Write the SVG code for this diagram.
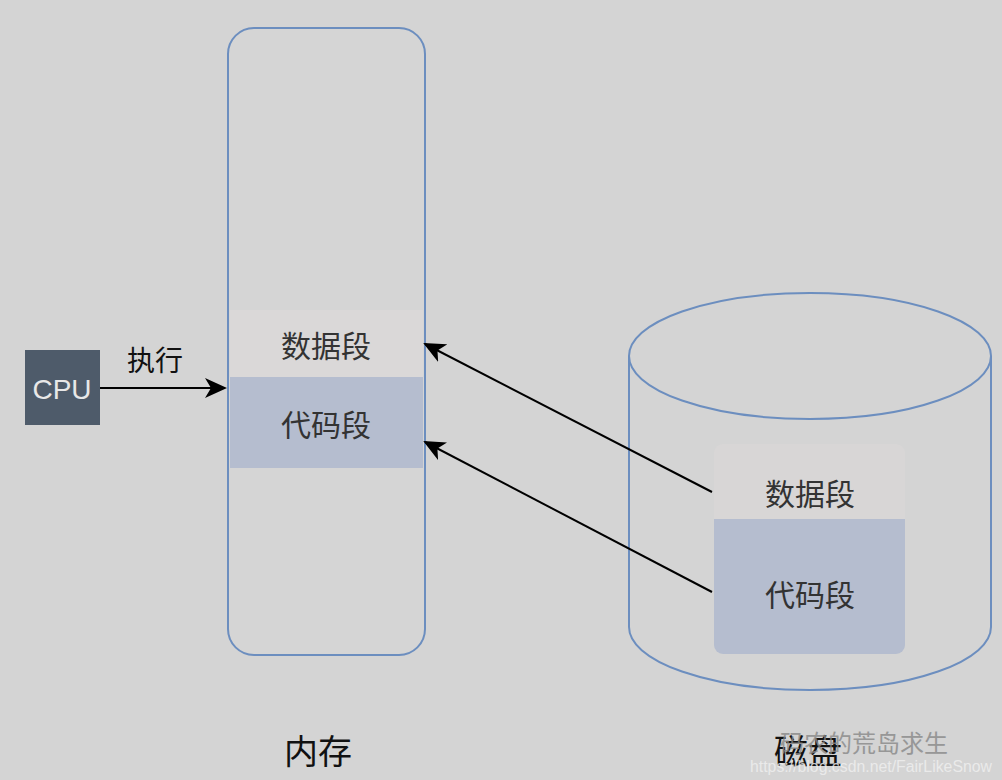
<svg xmlns="http://www.w3.org/2000/svg" width="1002" height="780" viewBox="0 0 1002 780">
<style>
text{font-family:"Noto Sans CJK SC","Liberation Sans",sans-serif;}
.seg{font-size:30px;fill:#333;text-anchor:middle;}
.big{font-size:34px;fill:#111;text-anchor:middle;}
.edge{stroke:#000;stroke-width:2;fill:none;marker-end:url(#ah);}
</style>
<defs><marker id="ah" markerWidth="22" markerHeight="20" refX="20" refY="10" orient="auto" markerUnits="userSpaceOnUse" viewBox="0 0 22 20"><path d="M0,0 L22,10 L0,20 L6,10 Z" fill="#000"/></marker>
<clipPath id="cp"><rect x="714" y="444" width="191" height="210" rx="9"/></clipPath></defs>
<rect width="1002" height="780" fill="#d4d4d4"/>
<g id="memory">
<rect x="228" y="28" width="197" height="627" rx="26" fill="#d5d5d5" stroke="#6c8ebf" stroke-width="2"/>
<rect x="230" y="310" width="193" height="67" fill="#dad8d8"/>
<rect x="230" y="377" width="193" height="91" fill="#b5bdcf"/>
<text class="seg" x="326" y="357">数据段</text>
<text class="seg" x="326" y="436">代码段</text>
<text class="big" x="318" y="764">内存</text>
</g>
<g id="cpu">
<rect x="25" y="350" width="75" height="75" fill="#4e5b6a"/>
<text x="62" y="399" font-size="28" fill="#e8e8e8" text-anchor="middle" style="font-family:'Liberation Sans',sans-serif">CPU</text>
</g>
<g id="disk">
<path d="M629,356 L629,627 A181,63 0 0 0 991,627 L991,356" fill="#d4d4d4" stroke="#6c8ebf" stroke-width="2"/>
<ellipse cx="810" cy="356" rx="181" ry="63" fill="#d4d4d4" stroke="#6c8ebf" stroke-width="2"/>
<g clip-path="url(#cp)">
<rect x="714" y="444" width="191" height="75" fill="#d8d6d6"/>
<rect x="714" y="519" width="191" height="135" fill="#b5bdcf"/>
</g>
<text class="seg" x="810" y="505">数据段</text>
<text class="seg" x="810" y="606">代码段</text>
<text class="big" x="808" y="764">磁盘</text>
</g>
<g id="connectors">
<line class="edge" x1="100" y1="388" x2="225" y2="388"/>
<text x="155" y="371" font-size="28" fill="#111" text-anchor="middle">执行</text>
<line class="edge" x1="712" y1="492" x2="425" y2="344"/>
<line class="edge" x1="712" y1="592" x2="425" y2="442"/>
</g>
<g id="watermark" fill="#888" opacity="0.8">
<text x="780" y="752" font-size="24">码农的荒岛求生</text>
<text x="750" y="772" font-size="16" textLength="242" lengthAdjust="spacingAndGlyphs" style="font-family:'Liberation Sans',sans-serif" fill="#f0f0f0">https://blog.csdn.net/FairLikeSnow</text>
</g>
</svg>
